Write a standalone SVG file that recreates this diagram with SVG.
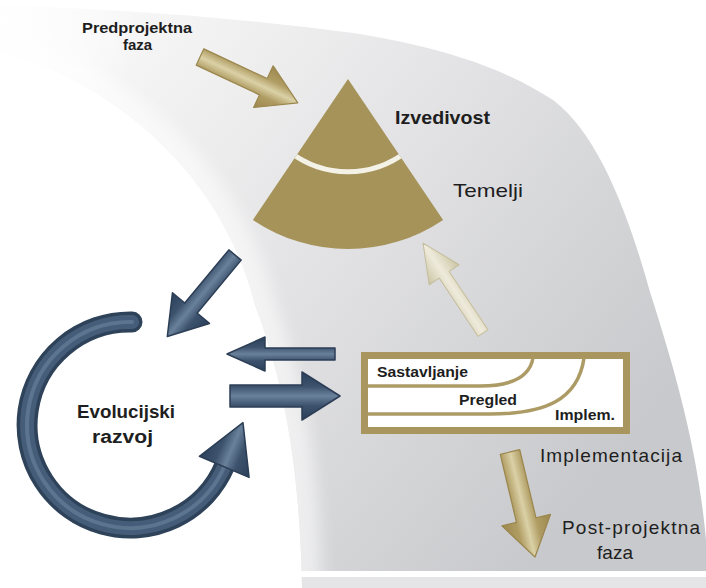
<svg xmlns="http://www.w3.org/2000/svg" width="706" height="588" viewBox="0 0 706 588">
<defs>
  <style>
    .lbl{font-family:"Liberation Sans",Arial,sans-serif;fill:#1e1e1e}
    .b{font-weight:bold}
    .blue{fill:url(#blueG);stroke:#2c3e55;stroke-width:1.5;stroke-linejoin:round}
    .gold{fill:url(#goldG);stroke:#9a864d;stroke-width:1.2;stroke-linejoin:round}
    .pale{fill:url(#paleG);stroke:#c4bd9b;stroke-width:1;stroke-linejoin:round}
    .gline{fill:none;stroke:#ad9b66;stroke-width:3.5}
  </style>
  <linearGradient id="bandG" gradientUnits="userSpaceOnUse" x1="120" y1="20" x2="640" y2="430">
    <stop offset="0" stop-color="#f7f7f7"/>
    <stop offset="0.45" stop-color="#e3e3e5"/>
    <stop offset="1" stop-color="#c8c9cc"/>
  </linearGradient>
  <radialGradient id="fadeG" gradientUnits="userSpaceOnUse" cx="0" cy="20" r="140">
    <stop offset="0" stop-color="#ffffff" stop-opacity="1"/>
    <stop offset="0.5" stop-color="#ffffff" stop-opacity="0.6"/>
    <stop offset="1" stop-color="#ffffff" stop-opacity="0"/>
  </radialGradient>
  <linearGradient id="blueG" x1="0" y1="0" x2="0" y2="1">
    <stop offset="0" stop-color="#2c405a"/>
    <stop offset="0.3" stop-color="#3c526d"/>
    <stop offset="0.5" stop-color="#6a819b"/>
    <stop offset="0.7" stop-color="#3c526d"/>
    <stop offset="1" stop-color="#2c405a"/>
  </linearGradient>
  <linearGradient id="goldG" x1="0" y1="0" x2="0" y2="1">
    <stop offset="0" stop-color="#9c874d"/>
    <stop offset="0.3" stop-color="#b09d64"/>
    <stop offset="0.5" stop-color="#dbd1a7"/>
    <stop offset="0.7" stop-color="#b09d64"/>
    <stop offset="1" stop-color="#9c874d"/>
  </linearGradient>
  <linearGradient id="paleG" x1="0" y1="0" x2="0" y2="1">
    <stop offset="0" stop-color="#cbc4a3"/>
    <stop offset="0.5" stop-color="#efebdc"/>
    <stop offset="1" stop-color="#cbc4a3"/>
  </linearGradient>
  <filter id="soft" x="-20%" y="-20%" width="140%" height="140%">
    <feGaussianBlur stdDeviation="8"/>
  </filter>
  <clipPath id="bandClip">
    <path d="M0,6 Q180,10 353,33 C450,48 510,72 553,100 C600,135 630,220 650,292 C675,370 698,450 706,540 L706,588 L302,588 C300,470 285,385 255,305 C225,185 130,90 0,50 Z"/>
  </clipPath>
  <clipPath id="sectorClip">
    <path d="M348,79 L252.9,219.9 A170,170 0 0 0 443.1,219.9 Z"/>
  </clipPath>
</defs>

<rect width="706" height="588" fill="#ffffff"/>

<g id="background">
  <path d="M0,6 Q180,10 353,33 C450,48 510,72 553,100 C600,135 630,220 650,292 C675,370 698,450 706,540 L706,588 L302,588 C300,470 285,385 255,305 C225,185 130,90 0,50 Z" fill="url(#bandG)"/>
  <g clip-path="url(#bandClip)">
    <path d="M302,588 C300,470 285,385 255,305 C225,185 130,90 0,50" fill="none" stroke="#ffffff" stroke-width="40" opacity="0.55" filter="url(#soft)"/>
    <rect x="0" y="0" width="200" height="120" fill="url(#fadeG)"/>
  </g>
  <rect x="295" y="571" width="411" height="6" fill="#ffffff"/>
  <rect x="302" y="577" width="404" height="11" fill="#e5e5e7"/>
</g>

<g id="pyramid">
  <path d="M348,79 L252.9,219.9 A170,170 0 0 0 443.1,219.9 Z" fill="#a6935a"/>
  <path d="M290,152 A95,95 0 0 0 406,152" fill="none" stroke="#f4f1e6" stroke-width="5" clip-path="url(#sectorClip)"/>
  <text class="lbl b" x="395" y="124" font-size="19" textLength="95" lengthAdjust="spacingAndGlyphs">Izvedivost</text>
  <text class="lbl" x="453" y="197" font-size="19" textLength="70" lengthAdjust="spacingAndGlyphs">Temelji</text>
</g>

<g id="implementation-box">
  <rect x="364.5" y="355.5" width="262" height="75" fill="#ffffff" stroke="#a8965e" stroke-width="7"/>
  <path class="gline" d="M368,386 L480,386 C515,386 530,375 533,358"/>
  <path class="gline" d="M368,414 L490,414 C545,414 578,400 584,358"/>
  <text class="lbl b" x="377" y="377" font-size="15" textLength="91" lengthAdjust="spacingAndGlyphs">Sastavljanje</text>
  <text class="lbl b" x="459" y="405" font-size="15" textLength="58" lengthAdjust="spacingAndGlyphs">Pregled</text>
  <text class="lbl b" x="555" y="420" font-size="15" textLength="60" lengthAdjust="spacingAndGlyphs">Implem.</text>
</g>

<g id="evolution">
  <path d="M132,322 A103,103 0 1 0 225,465" fill="none" stroke="#2e4259" stroke-width="21" stroke-linecap="round"/>
  <path d="M132,322 A103,103 0 1 0 225,465" fill="none" stroke="#465d79" stroke-width="14" stroke-linecap="round"/>
  <path d="M132,322 A103,103 0 1 0 225,465" fill="none" stroke="#6d849e" stroke-width="4" stroke-linecap="round" opacity="0.6"/>
  <polygon class="blue" points="-2,-27 46,0 -2,27" transform="translate(225,465) rotate(-67)"/>
  <text class="lbl b" x="126" y="418" font-size="18" text-anchor="middle" textLength="98" lengthAdjust="spacingAndGlyphs">Evolucijski</text>
  <text class="lbl b" x="122.5" y="443" font-size="18" text-anchor="middle" textLength="61" lengthAdjust="spacingAndGlyphs">razvoj</text>
</g>

<g id="labels">
  <g id="pre-phase">
    <text class="lbl b" x="137" y="33" font-size="15" text-anchor="middle" textLength="110" lengthAdjust="spacingAndGlyphs">Predprojektna</text>
    <text class="lbl b" x="137.5" y="50" font-size="15" text-anchor="middle">faza</text>
  </g>
  <g id="implementation-label">
    <text class="lbl" x="540" y="462" font-size="19" textLength="142" lengthAdjust="spacing">Implementacija</text>
  </g>
  <g id="post-phase">
    <text class="lbl" x="562" y="534" font-size="19" textLength="138" lengthAdjust="spacing">Post-projektna</text>
    <text class="lbl" x="597" y="559" font-size="19" textLength="36" lengthAdjust="spacing">faza</text>
  </g>
</g>

<g id="connectors">
  <polygon class="gold" points="0,-9 70,-9 70,-23 108,0 70,23 70,9 0,9" transform="translate(200,57) rotate(25.1)"/>
  <polygon class="pale" points="0,-6 70,-6 70,-18 108,0 70,18 70,6 0,6" transform="translate(483,333) rotate(-123.7)"/>
  <polygon class="blue" points="0,-8 69,-8 69,-24 106,0 69,24 69,8 0,8" transform="translate(235,255) rotate(129.7)"/>
  <polygon class="blue" points="0,-6 70,-6 70,-17 108,0 70,17 70,6 0,6" transform="translate(335,354) rotate(180)"/>
  <polygon class="blue" points="0,-11 72,-11 72,-24 110,0 72,24 72,11 0,11" transform="translate(230,396)"/>
  <polygon class="gold" points="0,-10 70,-10 70,-25 108,0 70,25 70,10 0,10" transform="translate(510,452) rotate(76.6)"/>
</g>
</svg>
